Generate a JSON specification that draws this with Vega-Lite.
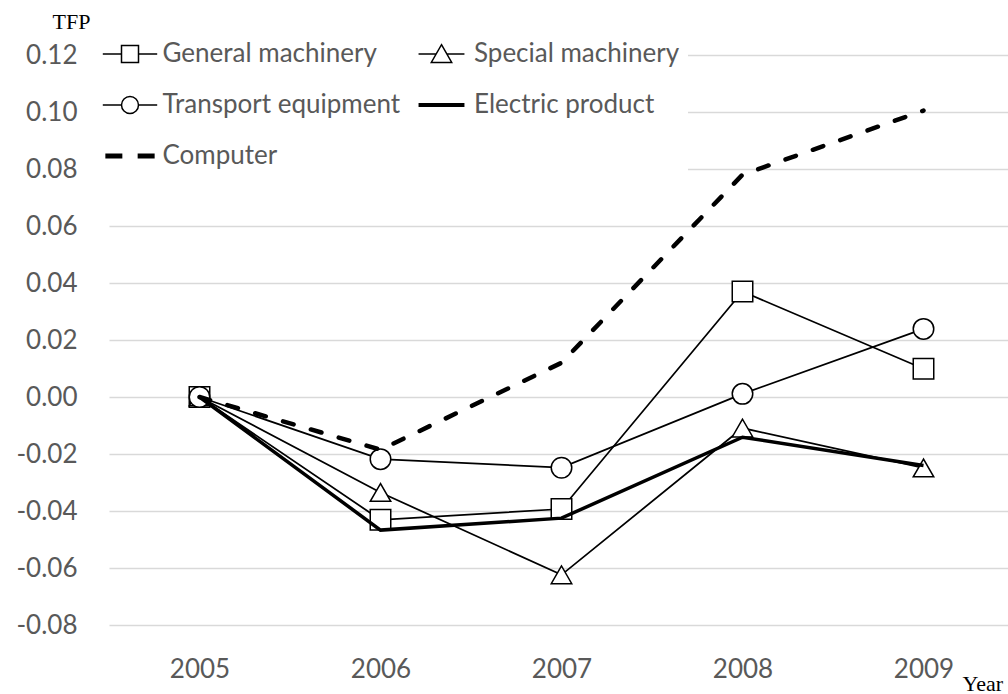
{
  "$schema": "https://vega.github.io/schema/vega-lite/v6.json",
  "width": 899,
  "height": 570,
  "autosize": {"type": "none"},
  "padding": {"left": 109, "top": 55, "right": 0, "bottom": 69},
  "background": "white",
  "config": {"view": {"stroke": null}, "font": "Lato"},
  "data": {
    "values": [
      {"year": "2005", "series": "General machinery", "tfp": 0},
      {"year": "2006", "series": "General machinery", "tfp": -0.0431},
      {"year": "2007", "series": "General machinery", "tfp": -0.0393},
      {"year": "2008", "series": "General machinery", "tfp": 0.037},
      {"year": "2009", "series": "General machinery", "tfp": 0.0099},
      {"year": "2005", "series": "Special machinery", "tfp": 0},
      {"year": "2006", "series": "Special machinery", "tfp": -0.0335},
      {"year": "2007", "series": "Special machinery", "tfp": -0.0624},
      {"year": "2008", "series": "Special machinery", "tfp": -0.0109},
      {"year": "2009", "series": "Special machinery", "tfp": -0.0249},
      {"year": "2005", "series": "Transport equipment", "tfp": 0},
      {"year": "2006", "series": "Transport equipment", "tfp": -0.0218},
      {"year": "2007", "series": "Transport equipment", "tfp": -0.0248},
      {"year": "2008", "series": "Transport equipment", "tfp": 0.0011},
      {"year": "2009", "series": "Transport equipment", "tfp": 0.0239},
      {"year": "2005", "series": "Electric product", "tfp": 0},
      {"year": "2006", "series": "Electric product", "tfp": -0.0467},
      {"year": "2007", "series": "Electric product", "tfp": -0.0425},
      {"year": "2008", "series": "Electric product", "tfp": -0.0141},
      {"year": "2009", "series": "Electric product", "tfp": -0.024},
      {"year": "2005", "series": "Computer", "tfp": 0},
      {"year": "2006", "series": "Computer", "tfp": -0.0185},
      {"year": "2007", "series": "Computer", "tfp": 0.012},
      {"year": "2008", "series": "Computer", "tfp": 0.078},
      {"year": "2009", "series": "Computer", "tfp": 0.1005}
    ]
  },
  "encoding": {
    "x": {
      "field": "year",
      "type": "ordinal",
      "scale": {"type": "point", "range": [0, 905], "padding": 0.5},
      "axis": {
        "title": "Year",
        "labelAngle": 0,
        "labelFont": "Lato",
        "labelFontSize": 26,
        "labelColor": "#595959",
        "labelBaseline": "alphabetic",
        "labelPadding": 52,
        "ticks": false,
        "tickSize": 0,
        "domain": false,
        "grid": false,
        "titleFont": "Liberation Serif",
        "titleFontSize": 22,
        "titleFontWeight": "normal",
        "titleColor": "black",
        "titleX": 853,
        "titleY": 65,
        "titleAlign": "left",
        "titleBaseline": "alphabetic"
      }
    },
    "y": {
      "field": "tfp",
      "type": "quantitative",
      "scale": {"domain": [-0.08, 0.12], "nice": false, "zero": false},
      "axis": {
        "title": "TFP",
        "values": [-0.08, -0.06, -0.04, -0.02, 0, 0.02, 0.04, 0.06, 0.08, 0.1, 0.12],
        "labelExpr": "replace(format(datum.value, '.2f'), '−', '-')",
        "labelFont": "Lato",
        "labelFontSize": 26,
        "labelColor": "#595959",
        "labelPadding": 32,
        "ticks": false,
        "tickSize": 0,
        "domain": false,
        "gridColor": "#d9d9d9",
        "gridWidth": 1.3,
        "titleAngle": 0,
        "titleX": -38,
        "titleY": -34,
        "titleAlign": "center",
        "titleBaseline": "middle",
        "titleFont": "Liberation Serif",
        "titleFontSize": 22,
        "titleFontWeight": "normal",
        "titleColor": "black"
      }
    }
  },
  "resolve": {"scale": {"shape": "independent"}, "legend": {"shape": "independent"}},
  "layer": [
    {
      "transform": [{"filter": {"field": "series", "oneOf": ["General machinery", "Special machinery", "Transport equipment"]}}],
      "mark": {"type": "line", "color": "black", "strokeWidth": 1.75},
      "encoding": {"detail": {"field": "series", "type": "nominal"}}
    },
    {
      "transform": [{"filter": {"field": "series", "oneOf": ["General machinery", "Special machinery", "Transport equipment"]}}],
      "mark": {"type": "point", "filled": true, "fill": "white", "stroke": "black", "strokeWidth": 1.5, "size": 420, "opacity": 1},
      "encoding": {
        "shape": {
          "field": "series",
          "type": "nominal",
          "scale": {
            "domain": ["General machinery", "Special machinery", "Transport equipment"],
            "range": ["square", "triangle-up", "circle"]
          },
          "legend": null
        }
      }
    },
    {
      "transform": [{"filter": "datum.tfp > 1"}],
      "mark": {"type": "point", "filled": true, "fill": "white", "stroke": "black", "strokeWidth": 1.5, "size": 289, "opacity": 1},
      "encoding": {
        "shape": {
          "field": "series",
          "type": "nominal",
          "scale": {
            "domain": ["General machinery", "Special machinery", "Transport equipment", "Electric product", "Computer"],
            "range": [
              "M-3.2,0H-1M-1,-1H1V1H-1ZM1,0H3.2",
              "M-2.7,0H-0.6M0.6,0H2.7M0,-1.1L1.2,1H-1.2Z",
              "M-3.2,0H-1M-1,0A1,1,0,1,1,1,0A1,1,0,1,1,-1,0ZM1,0H3.2",
              "M-2.7,-0.15H2.7M-2.7,0H2.7M-2.7,0.15H2.7",
              "M-2.9,-0.2H-0.9M-2.9,-0.07H-0.9M-2.9,0.07H-0.9M-2.9,0.2H-0.9M0.9,-0.2H2.9M0.9,-0.07H2.9M0.9,0.07H2.9M0.9,0.2H2.9"
            ]
          },
          "legend": {
            "title": null,
            "orient": "none",
            "direction": "horizontal",
            "legendX": 0,
            "legendY": -22,
            "columns": 2,
            "padding": 8,
            "fillColor": "white",
            "strokeColor": null,
            "rowPadding": 25,
            "columnPadding": 14.5,
            "symbolSize": 289,
            "labelOffset": 19.5,
            "labelFont": "Lato",
            "labelFontSize": 26,
            "labelColor": "#595959",
            "labelLimit": 400
          }
        }
      }
    },
    {
      "transform": [{"filter": "datum.series === 'Electric product'"}],
      "mark": {"type": "line", "color": "black", "strokeWidth": 3.5},
      "encoding": {}
    },
    {
      "transform": [{"filter": "datum.series === 'Computer'"}],
      "mark": {"type": "line", "color": "black", "strokeWidth": 4.5, "strokeDash": [11, 18], "strokeCap": "round"},
      "encoding": {}
    }
  ]
}
